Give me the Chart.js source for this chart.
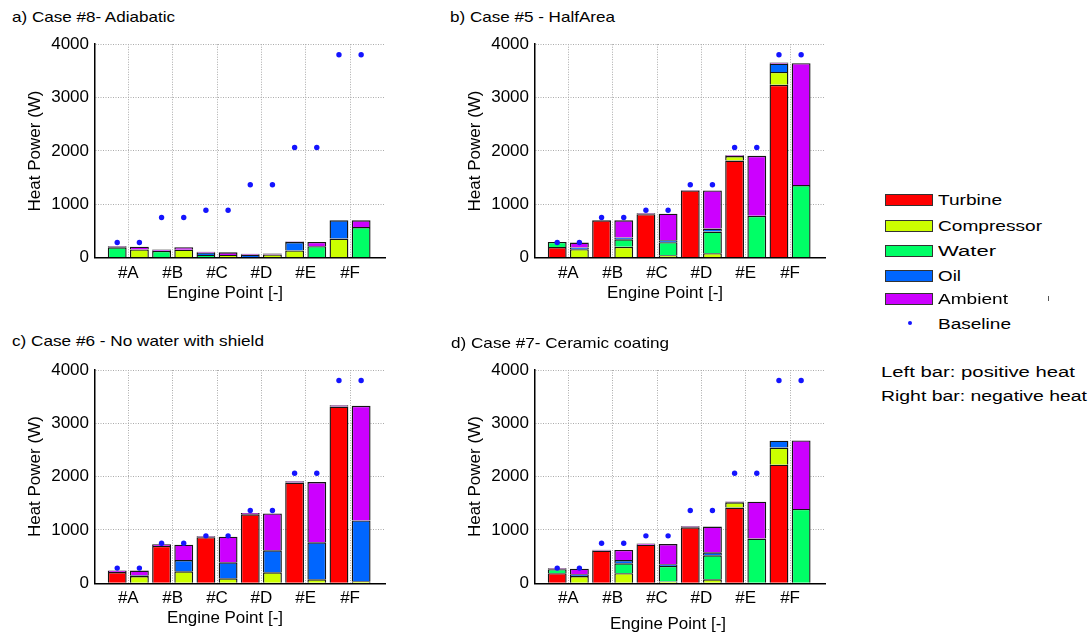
<!DOCTYPE html>
<html><head><meta charset="utf-8">
<script src="https://cdn.jsdelivr.net/npm/chart.js@4/dist/chart.umd.min.js"></script>
<style>
html,body{margin:0;padding:0;background:#fff;width:1092px;height:637px;overflow:hidden;font-family:"Liberation Sans",Arial,sans-serif;color:#000}
canvas{position:absolute}
.t{position:absolute;white-space:nowrap;transform-origin:0 50%;line-height:18px;height:18px;font-size:15px}
.lg{font-size:15.5px}
.ax{font-size:16px}
.box{position:absolute;width:48px;height:12px;box-sizing:border-box;border:1px solid #333}
</style></head><body>
<canvas id="ca" width="400" height="282" style="left:0px;top:28px"></canvas>
<canvas id="cb" width="400" height="282" style="left:440px;top:28px"></canvas>
<canvas id="cc" width="400" height="285" style="left:0px;top:350px"></canvas>
<canvas id="cd" width="400" height="287" style="left:440px;top:350px"></canvas>
<div id="texts"></div>
<script>
// ---------- data ----------
const CATEGORIES = ['#A', '#B', '#C', '#D', '#E', '#F'];
const COMPONENTS = ['Turbine', 'Compressor', 'Water', 'Oil', 'Ambient'];
const COLORS = ['#ff0000', '#ccff00', '#00ff66', '#0066ff', '#cc00ff'];
const BASELINE = [285, 752, 890, 1366, 2064, 3803];
const Y_TICKS = [0, 1000, 2000, 3000, 4000];

// a) Case #8 - Adiabatic
const C8_TURBINE_L    = [0, 0, 0, 0, 0, 0];
const C8_COMPRESSOR_L = [0, 0, 0, 0, 137, 360];
const C8_WATER_L      = [195, 130, 50, 0, 0, 0];
const C8_OIL_L        = [0, 0, 45, 55, 155, 340];
const C8_AMBIENT_L    = [20, 25, 15, 20, 10, 0];
const C8_TURBINE_R    = [0, 0, 0, 0, 0, 0];
const C8_COMPRESSOR_R = [155, 150, 50, 60, 0, 0];
const C8_WATER_R      = [0, 0, 0, 0, 215, 575];
const C8_OIL_R        = [0, 0, 0, 0, 0, 0];
const C8_AMBIENT_R    = [50, 45, 50, 20, 80, 125];

// b) Case #5 - HalfArea
const C5_TURBINE_L    = [200, 700, 815, 1260, 1820, 3240];
const C5_COMPRESSOR_L = [0, 0, 0, 0, 85, 240];
const C5_WATER_L      = [95, 0, 0, 0, 0, 0];
const C5_OIL_L        = [0, 0, 0, 0, 0, 155];
const C5_AMBIENT_L    = [0, 0, 20, 10, 15, 20];
const C5_TURBINE_R    = [0, 0, 0, 0, 0, 0];
const C5_COMPRESSOR_R = [160, 205, 45, 85, 0, 0];
const C5_WATER_R      = [0, 140, 245, 405, 785, 1360];
const C5_OIL_R        = [30, 35, 35, 55, 0, 0];
const C5_AMBIENT_R    = [95, 320, 500, 715, 1125, 2285];

// c) Case #6 - No water with shield
const C6_TURBINE_L    = [210, 700, 865, 1295, 1890, 3315];
const C6_COMPRESSOR_L = [0, 0, 0, 0, 0, 0];
const C6_WATER_L      = [0, 0, 0, 0, 0, 0];
const C6_OIL_L        = [0, 0, 0, 0, 0, 0];
const C6_AMBIENT_L    = [30, 30, 15, 25, 25, 25];
const C6_TURBINE_R    = [0, 0, 0, 0, 0, 0];
const C6_COMPRESSOR_R = [135, 225, 95, 205, 75, 40];
const C6_WATER_R      = [0, 0, 0, 0, 0, 0];
const C6_OIL_R        = [15, 210, 300, 415, 695, 1140];
const C6_AMBIENT_R    = [90, 290, 480, 690, 1130, 2150];

// d) Case #7 - Ceramic coating
const C7_TURBINE_L    = [190, 615, 725, 1050, 1420, 2225];
const C7_COMPRESSOR_L = [0, 0, 0, 0, 100, 320];
const C7_WATER_L      = [75, 0, 0, 0, 0, 0];
const C7_OIL_L        = [0, 0, 0, 0, 0, 130];
const C7_AMBIENT_L    = [15, 15, 20, 20, 15, 0];
const C7_TURBINE_R    = [0, 0, 0, 0, 0, 0];
const C7_COMPRESSOR_R = [135, 190, 35, 75, 0, 0];
const C7_WATER_R      = [0, 185, 290, 450, 840, 1395];
const C7_OIL_R        = [35, 60, 30, 55, 0, 0];
const C7_AMBIENT_R    = [105, 190, 380, 485, 690, 1285];

// ---------- layout ----------
const CAT_PCT = 1.0, BAR_PCT = 0.85;
const FONT = '"Liberation Sans", Arial, sans-serif';
Chart.defaults.font.family = FONT;
Chart.defaults.font.size = 16;
Chart.defaults.color = '#000';

function makeChart(id, left, right, lay) {
  const datasets = [];
  datasets.push({
    type: 'scatter', label: 'Baseline', order: 0,
    data: BASELINE.flatMap((v, i) => [{x: i - CAT_PCT / 4, y: v}, {x: i + CAT_PCT / 4, y: v}]),
    pointRadius: 2.7, pointBackgroundColor: '#1414ff', pointBorderWidth: 0
  });
  [['L', left], ['R', right]].forEach(([stk, arrs]) => {
    arrs.forEach((arr, k) => {
      datasets.push({
        type: 'bar', label: COMPONENTS[k], stack: stk, order: 1,
        data: arr.map((v, i) => ({x: i, y: v === 0 ? null : v})),
        backgroundColor: COLORS[k], borderColor: '#151515', borderWidth: 1.4,
        categoryPercentage: CAT_PCT, barPercentage: BAR_PCT
      });
    });
  });
  return new Chart(document.getElementById(id), {
    type: 'bar',
    data: {datasets},
    options: {
      responsive: false, animation: false,
      layout: {padding: {top: lay.padTop, right: 15, left: 0, bottom: 0}},
      plugins: {legend: {display: false}, tooltip: {enabled: false}},
      scales: {
        x: {
          type: 'linear', offset: false, stacked: true,
          min: -0.751, max: 5.788,
          afterBuildTicks: s => { s.ticks = CATEGORIES.map((c, i) => ({value: i})); },
          afterFit: s => { s.height = lay.xHeight; },
          ticks: {callback: v => CATEGORIES[v], padding: 5, autoSkip: false, maxRotation: 0, font: {size: 17}},
          grid: {offset: false, drawTicks: false, color: '#ababab', lineWidth: 1},
          border: {display: true, color: '#000', width: 1.5, dash: [1, 1.5]},
          title: {display: false}
        },
        y: {
          type: 'linear', stacked: true, min: 0, max: 4000,
          afterBuildTicks: s => { s.ticks = Y_TICKS.map(v => ({value: v})); },
          afterFit: s => { s.width = 95; },
          ticks: {callback: v => String(v), padding: 6, font: {size: 17}},
          grid: {drawTicks: false, color: '#ababab', lineWidth: 1},
          border: {display: true, color: '#000', width: 1.5, dash: [1, 1.5]},
          title: {display: true, text: 'Heat Power (W)', font: {size: 17}, padding: {top: 25, bottom: 0}}
        }
      }
    }
  });
}

makeChart('ca', [C8_TURBINE_L, C8_COMPRESSOR_L, C8_WATER_L, C8_OIL_L, C8_AMBIENT_L],
               [C8_TURBINE_R, C8_COMPRESSOR_R, C8_WATER_R, C8_OIL_R, C8_AMBIENT_R],
          {padTop: 15.3, xHeight: 52.3});
makeChart('cb', [C5_TURBINE_L, C5_COMPRESSOR_L, C5_WATER_L, C5_OIL_L, C5_AMBIENT_L],
               [C5_TURBINE_R, C5_COMPRESSOR_R, C5_WATER_R, C5_OIL_R, C5_AMBIENT_R],
          {padTop: 15.3, xHeight: 52.3});
makeChart('cc', [C6_TURBINE_L, C6_COMPRESSOR_L, C6_WATER_L, C6_OIL_L, C6_AMBIENT_L],
               [C6_TURBINE_R, C6_COMPRESSOR_R, C6_WATER_R, C6_OIL_R, C6_AMBIENT_R],
          {padTop: 20, xHeight: 51.7});
makeChart('cd', [C7_TURBINE_L, C7_COMPRESSOR_L, C7_WATER_L, C7_OIL_L, C7_AMBIENT_L],
               [C7_TURBINE_R, C7_COMPRESSOR_R, C7_WATER_R, C7_OIL_R, C7_AMBIENT_R],
          {padTop: 20, xHeight: 53.7});

// ---------- texts & legend ----------
const TITLES = ['a) Case #8- Adiabatic', 'b) Case #5 - HalfArea', 'c) Case #6 - No water with shield', 'd) Case #7- Ceramic coating'];
const X_TITLE = 'Engine Point [-]';
const NOTES = ['Left bar: positive heat', 'Right bar: negative heat'];
const host = document.getElementById('texts');
function addText(txt, x, cy, w, cls) {
  const d = document.createElement('div');
  d.className = 't ' + (cls || '');
  d.textContent = txt;
  d.style.left = x + 'px';
  d.style.top = (cy - 9) + 'px';
  host.appendChild(d);
  const nat = d.getBoundingClientRect().width;
  d.style.transform = 'scaleX(' + (w / nat) + ')';
}
addText(TITLES[0], 12, 16.7, 163);
addText(TITLES[1], 450, 16.7, 165);
addText(TITLES[2], 12, 340.5, 252);
addText(TITLES[3], 451, 342.5, 218);
addText(X_TITLE, 167, 293, 116, 'ax');
addText(X_TITLE, 607, 293, 116, 'ax');
addText(X_TITLE, 167, 618, 116, 'ax');
addText(X_TITLE, 610, 623.5, 116, 'ax');

const LEG_CY = [200, 226, 251, 276, 299];
const LEG_W = [64, 104, 58, 23, 70];
COMPONENTS.forEach((c, k) => {
  const b = document.createElement('div');
  b.className = 'box';
  b.style.left = '885px';
  b.style.top = (LEG_CY[k] - 6.5) + 'px';
  b.style.background = COLORS[k];
  host.appendChild(b);
  addText(c, 938, LEG_CY[k], LEG_W[k], 'lg');
});
const dot = document.createElement('div');
dot.style.cssText = 'position:absolute;left:908px;top:320.5px;width:4px;height:4px;border-radius:50%;background:#1414ff';
host.appendChild(dot);
addText('Baseline', 938, 323.5, 73, 'lg');
const tick = document.createElement('div');
tick.style.cssText = 'position:absolute;left:1048px;top:296px;width:1px;height:5px;background:#555';
host.appendChild(tick);
addText(NOTES[0], 881, 372, 194, 'lg');
addText(NOTES[1], 881, 396, 206, 'lg');
</script>
</body></html>
